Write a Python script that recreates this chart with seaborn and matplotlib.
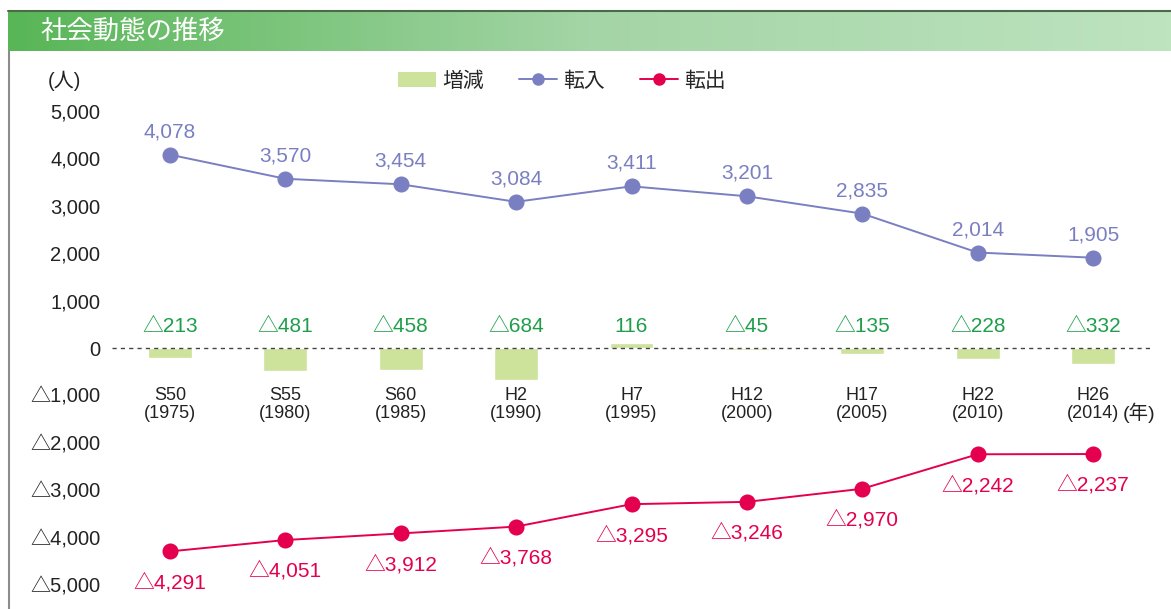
import numpy as np
import pandas as pd
import seaborn as sns
import matplotlib.pyplot as plt
from matplotlib.lines import Line2D
from matplotlib.patches import Patch

eras = ['S50', 'S55', 'S60', 'H2', 'H7', 'H12', 'H17', 'H22', 'H26']
years = ['1975', '1980', '1985', '1990', '1995', '2000', '2005', '2010', '2014']
tennyu = [4078, 3570, 3454, 3084, 3411, 3201, 2835, 2014, 1905]
tenshutsu = [-4291, -4051, -3912, -3768, -3295, -3246, -2970, -2242, -2237]
zougen = [-213, -481, -458, -684, 116, -45, -135, -228, -332]
yticks = [5000, 4000, 3000, 2000, 1000, 0, -1000, -2000, -3000, -4000, -5000]

c_bar = '#cde29a'
c_in = '#7a7fc2'
c_out = '#e4004f'
c_green = '#1f9e4a'
c_txt = '#222222'


def fmt(v):
    return ('△' if v < 0 else '') + f'{abs(v):,}'


sns.set_style('white')
plt.rcParams['font.family'] = ['Liberation Sans', 'Noto Sans CJK JP', 'DejaVu Sans']

df = pd.DataFrame({'era': eras, 'in': tennyu, 'out': tenshutsu, 'diff': zougen})

fig = plt.figure(figsize=(11.71, 6.09), dpi=100)

# header band
W, H = 1171, 609
hax = fig.add_axes([8 / W, 1 - 51 / H, 1 - 8 / W, 40 / H])
grad = np.linspace(0, 1, 256)[None, :]
cmap = sns.blend_palette(['#58b657', '#a4d5a6', '#bde3bf'], as_cmap=True)
hax.imshow(grad, aspect='auto', cmap=cmap, extent=[0, 1, 0, 1])
hax.set_axis_off()
hax.text(32 / (W - 8), 0.5, '社会動態の推移', color='white', fontsize=19,
         va='center', ha='left', family=['Noto Sans CJK JP'])
fig.add_artist(Line2D([8 / W, 1], [1 - 10.5 / H] * 2, color='#4a6b4a', lw=1.5))
fig.add_artist(Line2D([8.5 / W] * 2, [0, 1 - 51 / H], color='#8c8c8c', lw=1.5))

# main axes: xlim -0.5..8.5 -> px 112..1151, y 0 at px 348, 47.4 px per 1000
px_per = 0.0474
top_v = (348 - 60) / px_per
bot_v = -(609 - 348) / px_per
ax = fig.add_axes([112.3 / W, 0, 1038.4 / W, (609 - 60) / H])
ax.patch.set_alpha(0)

sns.barplot(data=df, x='era', y='diff', color=c_bar, width=0.38, ax=ax,
            saturation=1, zorder=2)
sns.pointplot(data=df, x='era', y='in', color=c_in, markers='o', ax=ax,
              linewidth=1.4, markersize=10.5, zorder=4)
sns.pointplot(data=df, x='era', y='out', color=c_out, markers='o', ax=ax,
              linewidth=1.4, markersize=10.5, zorder=4)
ax.axhline(0, color='#444444', lw=1, ls=(0, (3, 3)), zorder=3)

ax.set_xlim(-0.5, 8.5)
ax.set_ylim(bot_v, top_v)
ax.set_yticks(yticks, [fmt(v) for v in yticks])
ax.tick_params(axis='y', length=0, pad=8.5, labelsize=14.5, labelcolor=c_txt)
ax.set_xticks([])
ax.set_xlabel('')
ax.set_ylabel('')
sns.despine(ax=ax, left=True, bottom=True)

for i in range(len(eras)):
    ax.text(i, tennyu[i] + 23 / px_per, fmt(tennyu[i]),
            ha='center', va='center', color=c_in, fontsize=15)
    ax.text(i, tenshutsu[i] - 31 / px_per, fmt(tenshutsu[i]),
            ha='center', va='center', color=c_out, fontsize=15)
    ax.text(i, 445, fmt(zougen[i]), ha='center', va='center',
            color=c_green, fontsize=15)
    ax.text(i, -(395 - 348) / px_per, eras[i], ha='center', va='center',
            color=c_txt, fontsize=13)
    ax.text(i, -(413 - 348) / px_per, '(' + years[i] + ')', ha='center',
            va='center', color=c_txt, fontsize=13)
ax.text(8.26, -(413 - 348) / px_per, '(年)', ha='left', va='center',
        color=c_txt, fontsize=14, clip_on=False)

fig.text(48 / W, 1 - 81 / H, '(人)', fontsize=14.5, va='center', ha='left',
         color=c_txt)

handles = [Patch(facecolor=c_bar, edgecolor='none'),
           Line2D([], [], color=c_in, marker='o', lw=1.4, markersize=8),
           Line2D([], [], color=c_out, marker='o', lw=1.4, markersize=8)]
fig.legend(handles, ['増減', '転入', '転出'], loc='center', ncol=3,
           bbox_to_anchor=(562 / W, 1 - 81 / H), frameon=False,
           fontsize=15, handlelength=1.8, columnspacing=1.7,
           handletextpad=0.3)

fig.savefig('out.png', dpi=100)
